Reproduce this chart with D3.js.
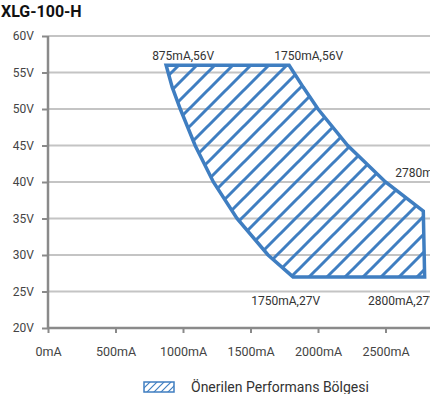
<!DOCTYPE html>
<html><head><meta charset="utf-8">
<script src="https://cdn.jsdelivr.net/npm/d3@7"></script>
<style>
html,body{margin:0;padding:0;background:#fff;}
svg{display:block;font-family:Roboto,"Liberation Sans",sans-serif;}
</style></head>
<body>
<script>
// ---- data ----
const title = "XLG-100-H";
const xTicks = [0, 500, 1000, 1500, 2000, 2500];
const yTicks = [20, 25, 30, 35, 40, 45, 50, 55, 60];
const xTickLabels = ["0mA","500mA","1000mA","1500mA","2000mA","2500mA"];
const yTickLabels = ["20V","25V","30V","35V","40V","45V","50V","55V","60V"];
// boundary of recommended region (current mA, voltage V)
const regionCurrent = [875, 1786, 1890, 2000, 2220, 2500, 2780, 2790, 1815, 1630, 1400, 1225, 1090, 980, 920];
const regionVoltage = [56,   56,   53,   50,   45,   40,   36,   27,   27,   30,   35,   40,   45,   50,  53];
const labelTexts   = ["875mA,56V", "1750mA,56V", "2780mA,36V", "1750mA,27V", "2800mA,27V"];
const labelCurrent = [875, 1750, 2780, 1750, 2800];
const labelVoltage = [56, 56, 36, 27, 27];
const legendText = "Önerilen Performans Bölgesi";

// ---- layout ----
const W = 430, H = 394;
const blue = "#3f7ec1";
const svg = d3.select("body").append("svg").attr("width", W).attr("height", H);

const x = d3.scaleLinear().domain([0, 3000]).range([48, 453]);
const y = d3.scaleLinear().domain([20, 60]).range([328, 36]);

const defs = svg.append("defs");
const pat = defs.append("pattern").attr("id","hatch")
  .attr("patternUnits","userSpaceOnUse").attr("x",10).attr("y",0)
  .attr("width",18).attr("height",18);
pat.append("path").attr("d","M-4.5,4.5 L4.5,-4.5 M0,18 L18,0 M13.5,22.5 L22.5,13.5")
  .attr("stroke",blue).attr("stroke-width",3).attr("fill","none");
const pat2 = defs.append("pattern").attr("id","hatchSmall")
  .attr("patternUnits","userSpaceOnUse").attr("x",0).attr("y",0)
  .attr("width",7).attr("height",7);
pat2.append("path").attr("d","M-1.75,1.75 L1.75,-1.75 M0,7 L7,0 M5.25,8.75 L8.75,5.25")
  .attr("stroke",blue).attr("stroke-width",1.2).attr("fill","none");

// title
svg.append("text").attr("x",1).attr("y",17).text(title)
  .attr("font-size",16).attr("font-weight","bold").attr("fill","#111");

// gridlines
svg.append("g").selectAll("line").data(yTicks.filter(v => v > 20)).join("line")
  .attr("x1", 48).attr("x2", W).attr("y1", d => y(d)).attr("y2", d => y(d))
  .attr("stroke","#c4c4c4").attr("stroke-width",2);

// y axis
const yAxis = d3.axisLeft(y).tickValues(yTicks)
  .tickFormat((d,i) => yTickLabels[i]).tickSize(6).tickPadding(8);
const gy = svg.append("g").attr("transform","translate(48,0)").call(yAxis);
gy.select(".domain").attr("stroke","#8a8a8a").attr("stroke-width",2.5).attr("d", `M0,${y(60)}V${y(20)}`);
gy.selectAll(".tick line").attr("stroke","#8a8a8a").attr("stroke-width",2);
gy.selectAll(".tick text").attr("font-size",12).attr("fill","#444").attr("font-family","Roboto");

// x axis
const xAxis = d3.axisBottom(x).tickValues(xTicks)
  .tickFormat((d,i) => xTickLabels[i]).tickSize(5).tickPadding(14);
const gx = svg.append("g").attr("transform",`translate(0,${y(20)})`).call(xAxis);
gx.select(".domain").attr("stroke","#8a8a8a").attr("stroke-width",2.5).attr("d", `M48,0H${W}`);
gx.selectAll(".tick line").attr("stroke","#8a8a8a").attr("stroke-width",2);
gx.selectAll(".tick text").attr("font-size",12.5).attr("fill","#444").attr("font-family","Roboto");

// region
const pts = regionCurrent.map((c,i) => [x(c), y(regionVoltage[i])]);
svg.append("path").attr("d", d3.line()(pts) + "Z")
  .attr("fill","url(#hatch)").attr("stroke",blue).attr("stroke-width",3.5)
  .attr("stroke-linejoin","miter");

// labels
const offs = [[-14,-5],[-10,-5],[-28,-34],[-33,28],[-58,28]];
svg.append("g").selectAll("text").data(labelTexts).join("text")
  .attr("x",(d,i) => x(labelCurrent[i]) + offs[i][0])
  .attr("y",(d,i) => y(labelVoltage[i]) + offs[i][1])
  .text(d => d).attr("font-size",12).attr("fill","#333");

// legend
svg.append("rect").attr("x",144).attr("y",382).attr("width",30).attr("height",10)
  .attr("fill","url(#hatchSmall)").attr("stroke",blue).attr("stroke-width",1.5);
svg.append("text").attr("x",191).attr("y",392).text(legendText)
  .attr("font-size",14).attr("fill","#333");
</script>
</body></html>
